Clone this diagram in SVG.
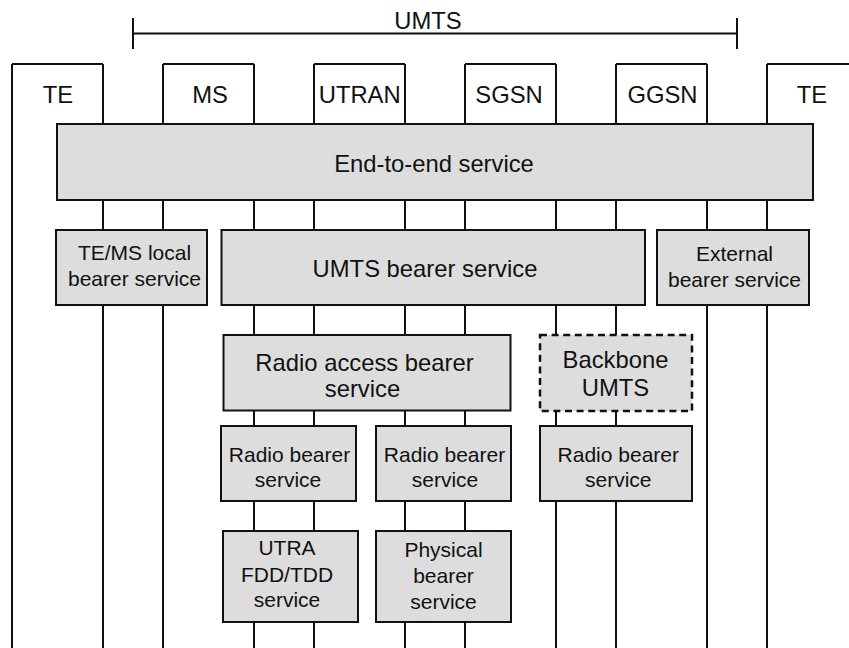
<svg xmlns="http://www.w3.org/2000/svg" width="849" height="648" viewBox="0 0 849 648">
  <style>
    .line { stroke: #111; stroke-width: 2; fill: none; }
    .box { fill: #dddddd; stroke: #111; stroke-width: 2; }
    .dash { fill: #dddddd; stroke: #111; stroke-width: 2.5; stroke-dasharray: 7 4.6; }
    text { font-family: "Liberation Sans", Arial, Helvetica, sans-serif; fill: #111; text-anchor: middle; }
    .big { font-size: 23.8px; }
    .small { font-size: 21px; }
  </style>

  <!-- UMTS span bracket -->
  <g id="umts-span">
    <path class="line" d="M133 33.5 H737 M133 18 V49 M737 18 V49"/>
    <text class="big" x="428" y="29">UMTS</text>
  </g>

  <!-- lifelines running down from the network elements -->
  <g id="connectors">
    <path class="line" d="M12 64 V648 M103 64 V648 M163 64 V648 M254 64 V648 M314 64 V648 M405 64 V648 M465 64 V648 M556 64 V648 M616 64 V648 M707 64 V648 M767 64 V648"/>
  </g>

  <!-- network elements -->
  <g id="te-left">
    <path class="line" d="M12 64 H103"/>
    <text class="big" x="58" y="102.7">TE</text>
  </g>
  <g id="ms">
    <path class="line" d="M163 64 H254"/>
    <text class="big" x="210" y="102.7">MS</text>
  </g>
  <g id="utran">
    <path class="line" d="M314 64 H405"/>
    <text class="big" x="359.7" y="102.7">UTRAN</text>
  </g>
  <g id="sgsn">
    <path class="line" d="M465 64 H556"/>
    <text class="big" x="509" y="102.7">SGSN</text>
  </g>
  <g id="ggsn">
    <path class="line" d="M616 64 H707"/>
    <text class="big" x="662.5" y="102.7">GGSN</text>
  </g>
  <g id="te-right">
    <path class="line" d="M767 64 H852"/>
    <text class="big" x="812" y="102.7">TE</text>
  </g>

  <!-- bearer services -->
  <g id="end-to-end">
    <rect class="box" x="57" y="124" width="756" height="76"/>
    <text class="big" x="434" y="171.5">End-to-end service</text>
  </g>

  <g id="te-ms-local">
    <rect class="box" x="56" y="230" width="151" height="75"/>
    <text class="small" x="134.5" y="259.5">TE/MS local</text>
    <text class="small" x="134.5" y="285.5">bearer service</text>
  </g>
  <g id="umts-bearer">
    <rect class="box" x="221.5" y="230" width="423.5" height="75"/>
    <text class="big" x="425" y="276.5">UMTS bearer service</text>
  </g>
  <g id="external-bearer">
    <rect class="box" x="657" y="230" width="152" height="75"/>
    <text class="small" x="734.5" y="261">External</text>
    <text class="small" x="734.5" y="287">bearer service</text>
  </g>

  <g id="radio-access-bearer">
    <rect class="box" x="223.5" y="335" width="287" height="75.5"/>
    <text class="big" x="364.5" y="370.7">Radio access bearer</text>
    <text class="big" x="362.5" y="396.7">service</text>
  </g>
  <g id="backbone">
    <rect class="dash" x="540" y="335" width="152" height="76"/>
    <text class="big" x="615.5" y="368.3">Backbone</text>
    <text class="big" x="615.5" y="396">UMTS</text>
  </g>

  <g id="radio-bearer-1">
    <rect class="box" x="221" y="426" width="135" height="75"/>
    <text class="small" x="289.5" y="461.7">Radio bearer</text>
    <text class="small" x="288" y="486.7">service</text>
  </g>
  <g id="radio-bearer-2">
    <rect class="box" x="376" y="426" width="135" height="75"/>
    <text class="small" x="444.5" y="461.7">Radio bearer</text>
    <text class="small" x="445" y="486.7">service</text>
  </g>
  <g id="radio-bearer-3">
    <rect class="box" x="540" y="426" width="152" height="75"/>
    <text class="small" x="618.3" y="461.7">Radio bearer</text>
    <text class="small" x="618.3" y="486.7">service</text>
  </g>

  <g id="utra-fdd-tdd">
    <rect class="box" x="223" y="531" width="135" height="91"/>
    <text class="small" x="287" y="555">UTRA</text>
    <text class="small" x="287" y="581.5">FDD/TDD</text>
    <text class="small" x="287" y="607">service</text>
  </g>
  <g id="physical-bearer">
    <rect class="box" x="376" y="531" width="135" height="91"/>
    <text class="small" x="443.5" y="557">Physical</text>
    <text class="small" x="443.5" y="583">bearer</text>
    <text class="small" x="443.5" y="608.5">service</text>
  </g>
</svg>
